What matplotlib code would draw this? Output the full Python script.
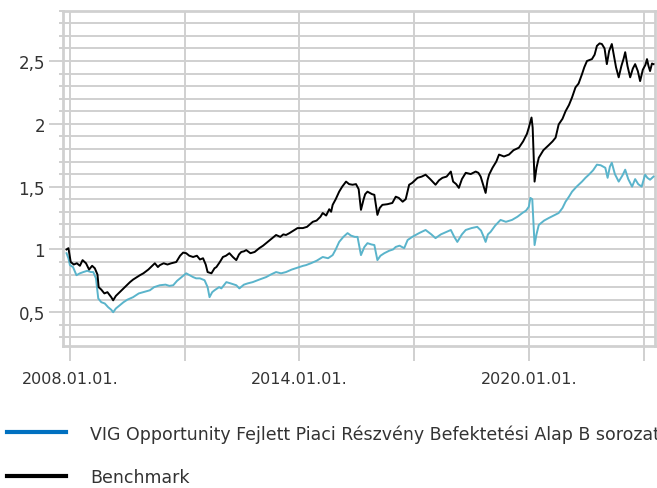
import numpy as np
import matplotlib
matplotlib.use('Agg')
import matplotlib.pyplot as plt
from matplotlib.lines import Line2D
from matplotlib.ticker import MultipleLocator, FixedLocator, FuncFormatter

# decimal years and values
bench_t = [2007.91, 2007.96, 2008.02, 2008.10, 2008.18, 2008.26, 2008.33, 2008.42, 2008.50, 2008.58,
           2008.65, 2008.72, 2008.75, 2008.82, 2008.90, 2008.98, 2009.08, 2009.13, 2009.20, 2009.30,
           2009.40, 2009.50, 2009.57, 2009.65, 2009.75, 2009.83, 2009.92, 2010.05, 2010.15, 2010.22,
           2010.30, 2010.35, 2010.45, 2010.55, 2010.65, 2010.78, 2010.88, 2010.96, 2011.04, 2011.12,
           2011.22, 2011.32, 2011.40, 2011.48, 2011.55, 2011.60, 2011.70, 2011.78, 2011.83, 2011.92,
           2012.00, 2012.08, 2012.17, 2012.26, 2012.35, 2012.42, 2012.48, 2012.55, 2012.61, 2012.72,
           2012.83, 2012.95, 2013.05, 2013.13, 2013.25, 2013.39, 2013.50, 2013.58, 2013.65, 2013.74,
           2013.87, 2013.95, 2014.09, 2014.20, 2014.35, 2014.45, 2014.55, 2014.61, 2014.70, 2014.78,
           2014.83, 2014.87, 2014.95, 2015.04, 2015.12, 2015.22, 2015.30, 2015.39, 2015.48, 2015.55,
           2015.61, 2015.68, 2015.72, 2015.78, 2015.90, 2015.96, 2016.04, 2016.10, 2016.17, 2016.30,
           2016.43, 2016.52, 2016.60, 2016.70, 2016.78, 2016.87, 2016.95, 2017.09, 2017.20, 2017.30,
           2017.42, 2017.56, 2017.65, 2017.74, 2017.85, 2017.96, 2018.02, 2018.10, 2018.17, 2018.25,
           2018.35, 2018.48, 2018.61, 2018.68, 2018.74, 2018.82, 2018.87, 2018.92, 2018.96, 2019.05,
           2019.15, 2019.22, 2019.35, 2019.48, 2019.60, 2019.74, 2019.85, 2019.95, 2020.00, 2020.07,
           2020.10, 2020.15, 2020.20, 2020.26, 2020.38, 2020.52, 2020.62, 2020.70, 2020.78, 2020.88,
           2020.96, 2021.05, 2021.13, 2021.22, 2021.30, 2021.39, 2021.45, 2021.52, 2021.65, 2021.72,
           2021.78, 2021.85, 2021.91, 2021.98, 2022.04, 2022.10, 2022.17, 2022.22, 2022.28, 2022.35,
           2022.42, 2022.48, 2022.52, 2022.58, 2022.65, 2022.72, 2022.78, 2022.85, 2022.91, 2022.98,
           2023.05, 2023.09, 2023.13, 2023.17, 2023.22, 2023.26]
bench_v = [1.00, 1.01, 0.90, 0.88, 0.89, 0.87, 0.915, 0.89, 0.84, 0.87,
           0.85, 0.80, 0.70, 0.68, 0.65, 0.66, 0.62, 0.595, 0.63, 0.66,
           0.69, 0.72, 0.74, 0.76, 0.78, 0.795, 0.81, 0.84, 0.87, 0.89,
           0.86, 0.875, 0.89, 0.88, 0.89, 0.90, 0.95, 0.975, 0.97, 0.95,
           0.94, 0.95, 0.92, 0.93, 0.88, 0.82, 0.81, 0.85, 0.86, 0.90,
           0.94, 0.95, 0.97, 0.94, 0.915, 0.96, 0.98, 0.985, 0.995, 0.97,
           0.98, 1.01, 1.03, 1.05, 1.08, 1.115, 1.10, 1.12, 1.115, 1.13,
           1.155, 1.17, 1.17, 1.18, 1.22, 1.23, 1.26, 1.29, 1.27, 1.32,
           1.30, 1.355, 1.40, 1.46, 1.50, 1.54, 1.52, 1.515, 1.52, 1.48,
           1.315, 1.40, 1.44, 1.46, 1.44, 1.435, 1.275, 1.33, 1.355, 1.36,
           1.37, 1.42, 1.41, 1.38, 1.40, 1.515, 1.53, 1.57, 1.58, 1.595,
           1.56, 1.515, 1.55, 1.57, 1.58, 1.62, 1.54, 1.52, 1.49, 1.56,
           1.61, 1.60, 1.62, 1.61, 1.58, 1.50, 1.45, 1.55, 1.595, 1.65,
           1.70, 1.755, 1.74, 1.755, 1.79, 1.81, 1.86, 1.92, 1.97, 2.05,
           1.97, 1.54, 1.65, 1.73, 1.79, 1.83, 1.86, 1.89, 1.995, 2.04,
           2.10, 2.15, 2.21, 2.29, 2.32, 2.395, 2.45, 2.50, 2.515, 2.55,
           2.62, 2.64, 2.635, 2.60, 2.475, 2.58, 2.635, 2.55, 2.45, 2.37,
           2.46, 2.52, 2.57, 2.46, 2.37, 2.44, 2.475, 2.42, 2.34, 2.43,
           2.47, 2.515, 2.46, 2.42, 2.48, 2.475]

fund_t = [2007.91, 2007.96, 2008.00, 2008.08, 2008.17, 2008.26, 2008.35, 2008.45, 2008.55, 2008.61,
          2008.68, 2008.74, 2008.82, 2008.91, 2009.00, 2009.08, 2009.13, 2009.20, 2009.30, 2009.40,
          2009.50, 2009.65, 2009.80, 2009.92, 2010.09, 2010.20, 2010.35, 2010.50, 2010.60, 2010.70,
          2010.80, 2010.92, 2011.04, 2011.13, 2011.22, 2011.30, 2011.40, 2011.52, 2011.60, 2011.65,
          2011.72, 2011.78, 2011.90, 2011.96, 2012.09, 2012.20, 2012.35, 2012.43, 2012.55, 2012.65,
          2012.78, 2012.95, 2013.13, 2013.25, 2013.39, 2013.52, 2013.65, 2013.80, 2014.00, 2014.10,
          2014.17, 2014.30, 2014.45, 2014.61, 2014.75, 2014.87, 2014.95, 2015.04, 2015.15, 2015.26,
          2015.35, 2015.45, 2015.52, 2015.61, 2015.70, 2015.78, 2015.88, 2015.96, 2016.04, 2016.12,
          2016.22, 2016.35, 2016.45, 2016.52, 2016.62, 2016.74, 2016.83, 2016.95, 2017.13, 2017.30,
          2017.45, 2017.56, 2017.70, 2017.85, 2017.96, 2018.05, 2018.13, 2018.25, 2018.35, 2018.50,
          2018.65, 2018.75, 2018.82, 2018.87, 2018.93, 2019.00, 2019.12, 2019.26, 2019.40, 2019.56,
          2019.70, 2019.83, 2019.93, 2020.00, 2020.04, 2020.09, 2020.15, 2020.20, 2020.26, 2020.40,
          2020.52, 2020.65, 2020.78, 2020.88, 2020.96, 2021.05, 2021.13, 2021.25, 2021.39, 2021.48,
          2021.57, 2021.68, 2021.78, 2021.88, 2022.00, 2022.06, 2022.12, 2022.17, 2022.25, 2022.35,
          2022.45, 2022.52, 2022.60, 2022.70, 2022.78, 2022.86, 2022.95, 2023.04, 2023.10, 2023.17,
          2023.26]
fund_v = [0.97, 0.93, 0.875, 0.86, 0.795, 0.81, 0.82, 0.83, 0.82, 0.82,
          0.77, 0.61, 0.58, 0.57, 0.54, 0.52, 0.50, 0.53, 0.555, 0.58,
          0.60, 0.62, 0.65, 0.66, 0.675, 0.70, 0.715, 0.72, 0.71, 0.715,
          0.75, 0.78, 0.81, 0.795, 0.78, 0.77, 0.77, 0.755, 0.70, 0.62,
          0.66, 0.675, 0.70, 0.69, 0.74, 0.73, 0.715, 0.69, 0.72, 0.73,
          0.74, 0.76, 0.78, 0.80, 0.82, 0.81, 0.82, 0.84, 0.86, 0.87,
          0.875, 0.89, 0.91, 0.94, 0.93, 0.955, 1.00, 1.06, 1.10, 1.13,
          1.11, 1.10, 1.10, 0.955, 1.02, 1.05, 1.04, 1.035, 0.915, 0.95,
          0.97, 0.99, 1.00, 1.02, 1.03, 1.01, 1.075, 1.10, 1.13, 1.155,
          1.12, 1.09, 1.12, 1.14, 1.155, 1.10, 1.06, 1.12, 1.155, 1.17,
          1.18, 1.15, 1.10, 1.06, 1.12, 1.14, 1.19, 1.235, 1.22, 1.235,
          1.26, 1.29, 1.31, 1.34, 1.41, 1.40, 1.035, 1.12, 1.195, 1.23,
          1.25, 1.27, 1.29, 1.33, 1.38, 1.42, 1.46, 1.50, 1.54, 1.57,
          1.595, 1.63, 1.675, 1.67, 1.65, 1.57, 1.66, 1.69, 1.60, 1.54,
          1.59, 1.635, 1.56, 1.50, 1.56, 1.52, 1.50, 1.595, 1.57, 1.555,
          1.58]

fund_label = 'VIG Opportunity Fejlett Piaci Részvény Befektetési Alap B sorozat'
bench_label = 'Benchmark'
x_ticks = [2008, 2011, 2014, 2017, 2020, 2023]
x_labels = ['2008.01.01.', '', '2014.01.01.', '', '2020.01.01.', '']

grid_c = '#d0d0d0'
text_c = '#333333'

fig = plt.figure(figsize=(6.57, 4.89), dpi=100)
ax = fig.add_axes([0.096, 0.29, 0.901, 0.686])

ax.plot(fund_t, fund_v, color='#5ab4cb', lw=1.4, zorder=3)
ax.plot(bench_t, bench_v, color='black', lw=1.4, zorder=4)

ax.set_xlim(2007.82, 2023.3)
ax.set_ylim(0.23, 2.9)

ax.xaxis.set_major_locator(FixedLocator(x_ticks))
ax.set_xticklabels(x_labels)
ax.yaxis.set_major_locator(MultipleLocator(0.5))
ax.yaxis.set_minor_locator(MultipleLocator(0.1))
ax.yaxis.set_major_formatter(FuncFormatter(lambda v, p: ('%g' % v).replace('.', ',')))

ax.grid(True, which='both', axis='y', color=grid_c, lw=1.4)
ax.grid(True, which='major', axis='x', color=grid_c, lw=1.4)
ax.set_axisbelow(True)

for s in ax.spines.values():
    s.set_color(grid_c)
    s.set_linewidth(2)

ax.tick_params(axis='y', which='major', length=10, width=1.4, color=grid_c,
               labelsize=12, labelcolor=text_c, pad=3)
ax.tick_params(axis='y', which='minor', length=3, width=1.4, color=grid_c)
ax.tick_params(axis='x', which='major', length=11, width=1.4, color=grid_c,
               labelsize=11.5, labelcolor=text_c, pad=7)

handles = [Line2D([], [], color='#0070c0', lw=3),
           Line2D([], [], color='black', lw=3)]
fig.legend(handles, [fund_label, bench_label], loc='upper left',
           bbox_to_anchor=(0.0, 0.145), frameon=False, handlelength=3.4,
           handletextpad=1.4, labelspacing=1.45, borderaxespad=0,
           prop={'family': ['Liberation Sans Narrow', 'DejaVu Sans'], 'size': 12.5},
           labelcolor=text_c)

fig.savefig('out.png', dpi=100)
